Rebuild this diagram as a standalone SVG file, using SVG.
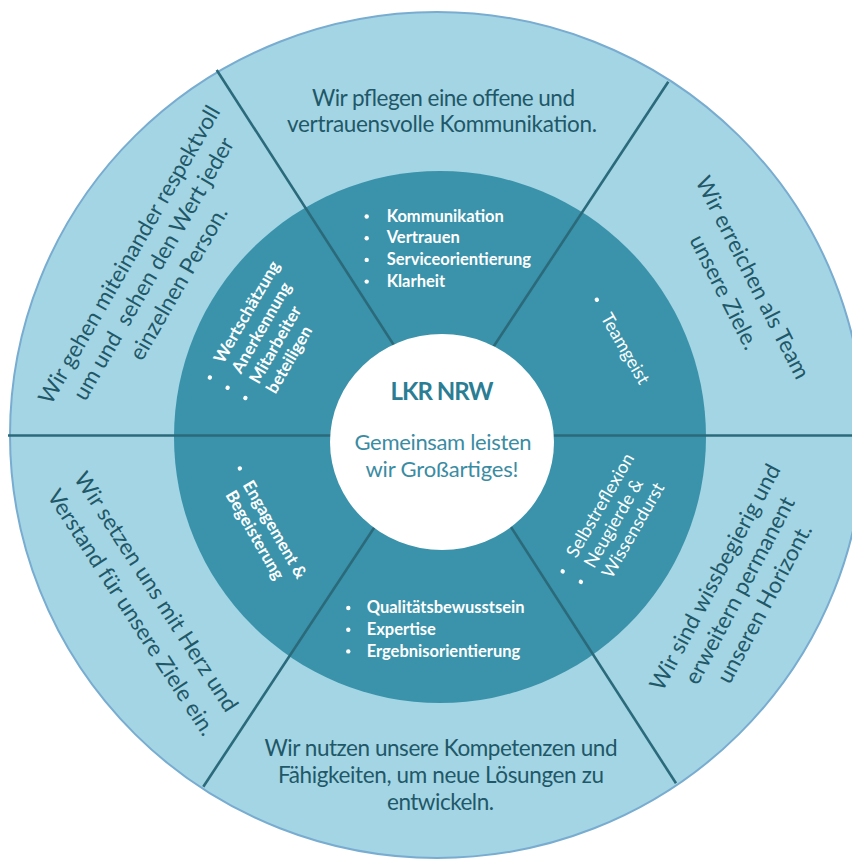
<svg xmlns="http://www.w3.org/2000/svg" width="852" height="860" viewBox="0 0 852 860">
<defs>
<style>
.outer{font-family:Lato,"Open Sans",sans-serif;font-size:22.5px;fill:#1f5868;}
.inner{font-family:Lato,"Open Sans",sans-serif;font-size:16.5px;font-weight:bold;fill:#ffffff;}
.innerb{font-family:Lato,"Open Sans",sans-serif;font-size:17px;font-weight:bold;fill:#ffffff;}
.innerr{font-family:Lato,"Open Sans",sans-serif;font-size:18px;fill:#ffffff;}
.div{stroke:#2b6a7a;stroke-width:2.6;fill:none;}
.dot{fill:#ffffff;}
</style>
</defs>
<rect width="852" height="860" fill="#ffffff"/>
<g id="rings">
<ellipse cx="437" cy="435" rx="427" ry="423" fill="#a4d5e4" stroke="#78acd0" stroke-width="2"/>
<circle cx="440" cy="437" r="266" fill="#3a93aa"/>
</g>
<g id="connectors">
<line class="div" x1="8" y1="435.5" x2="852" y2="435.5"/>
<line class="div" x1="216.7" y1="70" x2="676" y2="783.3"/>
<line class="div" x1="668.3" y1="81.7" x2="203.3" y2="786.7"/>
</g>
<g id="center">
<ellipse cx="442" cy="442" rx="112" ry="108" fill="#ffffff"/>
<text x="442" y="400" text-anchor="middle" font-family="Lato, 'Open Sans', sans-serif" font-size="24" font-weight="bold" fill="#2b7d93" textLength="103">LKR NRW</text>
<text x="443" y="450" text-anchor="middle" font-family="Lato, 'Open Sans', sans-serif" font-size="22" fill="#3a8ca3" textLength="177">Gemeinsam leisten</text>
<text x="442" y="476.5" text-anchor="middle" font-family="Lato, 'Open Sans', sans-serif" font-size="22" fill="#3a8ca3" textLength="153">wir Großartiges!</text>
</g>
<g id="seg-top">
<text class="outer" x="443.5" y="106" text-anchor="middle" textLength="263">Wir pflegen eine offene und</text>
<text class="outer" x="442" y="131.5" text-anchor="middle" textLength="310">vertrauensvolle Kommunikation.</text>
<circle class="dot" cx="366.7" cy="216.5" r="2.2"/>
<circle class="dot" cx="366.7" cy="238.2" r="2.2"/>
<circle class="dot" cx="366.7" cy="259.9" r="2.2"/>
<circle class="dot" cx="366.7" cy="281.6" r="2.2"/>
<text class="inner" x="386.7" y="221.7">Kommunikation</text>
<text class="inner" x="386.7" y="243.3">Vertrauen</text>
<text class="inner" x="386.7" y="265">Serviceorientierung</text>
<text class="inner" x="386.7" y="286.7">Klarheit</text>
</g>
<g id="seg-topright">
<g transform="rotate(63)">
<text class="outer" x="589" y="-537" text-anchor="middle">Wir erreichen als Team</text>
<text class="outer" x="589" y="-505" text-anchor="middle">unsere Ziele.</text>
</g>
<g transform="rotate(60)">
<circle class="dot" cx="558" cy="-367" r="2.2"/>
<text class="innerr" x="575" y="-361">Teamgeist</text>
</g>
</g>
<g id="seg-bottomright">
<g transform="rotate(-62)">
<text class="outer" x="-174" y="910" text-anchor="middle">Wir sind wissbegierig und</text>
<text class="outer" x="-174" y="938" text-anchor="middle">erweitern permanent</text>
<text class="outer" x="-174" y="966" text-anchor="middle">unseren Horizont.</text>
</g>
<g transform="rotate(-60)">
<circle class="dot" cx="-213.5" cy="773" r="2.2"/>
<circle class="dot" cx="-213.5" cy="794" r="2.2"/>
<text class="innerr" x="-196" y="778.5">Selbstreflexion</text>
<text class="innerr" x="-196" y="799">Neugierde &amp;</text>
<text class="innerr" x="-196" y="819.5">Wissensdurst</text>
</g>
</g>
<g id="seg-bottom">
<text class="outer" x="441" y="756" text-anchor="middle" textLength="353">Wir nutzen unsere Kompetenzen und</text>
<text class="outer" x="441" y="782.5" text-anchor="middle" textLength="326">Fähigkeiten, um neue Lösungen zu</text>
<text class="outer" x="440.5" y="810" text-anchor="middle" textLength="107">entwickeln.</text>
<circle class="dot" cx="348.3" cy="608" r="2.2"/>
<circle class="dot" cx="348.3" cy="629.7" r="2.2"/>
<circle class="dot" cx="348.3" cy="651.4" r="2.2"/>
<text class="inner" x="366.7" y="613.3">Qualitätsbewusstsein</text>
<text class="inner" x="366.7" y="635">Expertise</text>
<text class="inner" x="366.7" y="656.7">Ergebnisorientierung</text>
</g>
<g id="seg-bottomleft">
<g transform="rotate(57)">
<text class="outer" x="441" y="199">Wir setzen uns mit Herz und</text>
<text class="outer" x="441" y="231">Verstand für unsere Ziele ein.</text>
</g>
<g transform="rotate(60)">
<circle class="dot" cx="525.6" cy="26.5" r="2.2"/>
<text class="innerb" x="541" y="32.5">Engagement &amp;</text>
<text class="innerb" x="541" y="52.5">Begeisterung</text>
</g>
</g>
<g id="seg-topleft">
<g transform="rotate(-60)">
<text class="outer" x="-156" y="247" text-anchor="middle">Wir gehen miteinander respektvoll</text>
<text class="outer" x="-156" y="275" text-anchor="middle" xml:space="preserve">um und  sehen den Wert jeder</text>
<text class="outer" x="-156" y="304" text-anchor="middle">einzelnen Person.</text>
<circle class="dot" cx="-222" cy="370.5" r="2.2"/>
<circle class="dot" cx="-222" cy="391" r="2.2"/>
<circle class="dot" cx="-222" cy="411.5" r="2.2"/>
<text class="innerb" x="-204" y="375.5">Wertschätzung</text>
<text class="innerb" x="-204" y="396">Anerkennung</text>
<text class="innerb" x="-204" y="416.5">Mitarbeiter</text>
<text class="innerb" x="-204" y="436">beteiligen</text>
</g>
</g>
</svg>
